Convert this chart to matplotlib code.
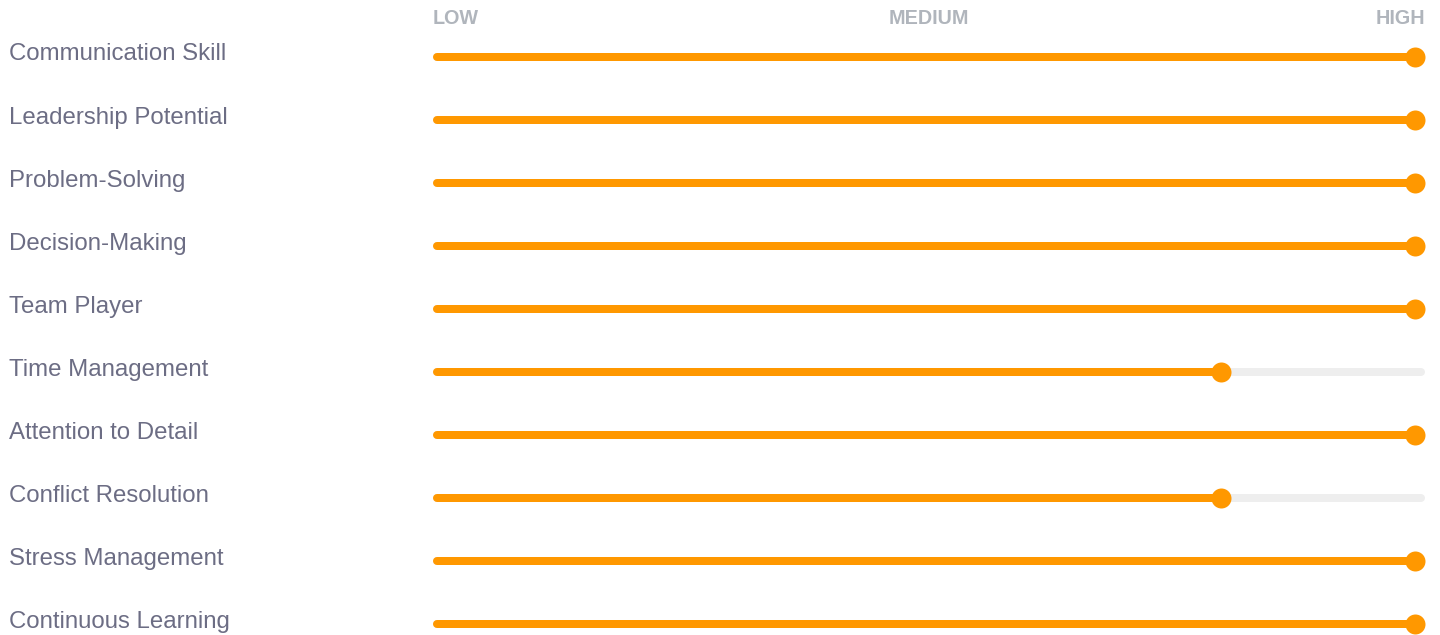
import matplotlib
matplotlib.use("Agg")
import matplotlib.pyplot as plt
from matplotlib.transforms import blended_transform_factory

skills = ["Communication Skill", "Leadership Potential", "Problem-Solving",
          "Decision-Making", "Team Player", "Time Management",
          "Attention to Detail", "Conflict Resolution", "Stress Management",
          "Continuous Learning"]
values = [100, 100, 100, 100, 100, 80, 100, 80, 100, 100]
scale_labels = ["LOW", "MEDIUM", "HIGH"]
scale_pos = [0, 50, 100]

plt.rcParams['font.family'] = ['Liberation Sans', 'DejaVu Sans']

W, H = 1440, 635
fig = plt.figure(figsize=(W / 100, H / 100), dpi=100)
fig.patch.set_facecolor("white")

left_px, right_px = 443, 1415
ax = fig.add_axes([left_px / W, 0, (right_px - left_px) / W, 1])
ax.set_xlim(0, 100)
row0, step = 56.5, 63.1
ax.set_ylim((H - row0) / step, -row0 / step)
ax.axis("off")

unit = (right_px - left_px) / 100.0  # pixels per value unit
lw_px = 8
ext = 10 / unit - (lw_px / 2) / unit  # line endpoint so cap reaches track edge
lw_pt = lw_px * 72 / 100

orange = "#ff9800"
track = "#eeeeee"

for i, (name, v) in enumerate(zip(skills, values)):
    ax.plot([-ext, 100 + ext], [i, i], color=track, lw=lw_pt,
            solid_capstyle="round", zorder=1, clip_on=False)
    ax.plot([-ext, v], [i, i], color=orange, lw=lw_pt,
            solid_capstyle="round", zorder=2, clip_on=False)
    ax.plot([v], [i], "o", color=orange, markersize=20 * 72 / 100,
            markeredgewidth=0, zorder=3, clip_on=False)

tr = blended_transform_factory(fig.transFigure, ax.transData)
for i, name in enumerate(skills):
    ax.text(9 / W, i + 4 / step, name, transform=tr, ha="left",
            va="baseline", fontsize=24 * 0.72, color="#6c6d84")

edge = 10 / unit
ha_list = ["left", "center", "right"]
xs = [scale_pos[0] - edge, scale_pos[1], scale_pos[2] + edge]
for lab, x, ha in zip(scale_labels, xs, ha_list):
    ax.text(x, (24 - row0) / step, lab, ha=ha, va="baseline",
            fontsize=19.8 * 0.72, fontweight="bold", color="#b0b5bc",
            clip_on=False)

fig.savefig("out.png", dpi=100, facecolor="white")
